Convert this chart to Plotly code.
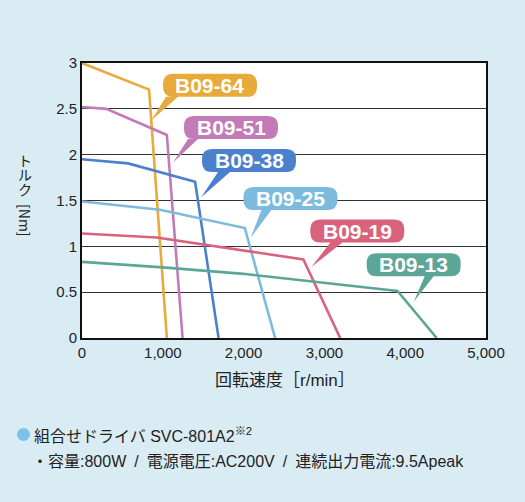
import plotly.graph_objects as go

# ---- data ----
models = ["B09-64", "B09-51", "B09-38", "B09-25", "B09-19", "B09-13"]
colors = ["#e9aa3c", "#c27bb7", "#4a80cc", "#7dbbde", "#d9637c", "#5ba697"]
speed_64 = [0, 830, 1050]
torque_64 = [3.0, 2.71, 0]
speed_51 = [0, 300, 1050, 1245]
torque_51 = [2.52, 2.50, 2.215, 0]
speed_38 = [0, 570, 1400, 1690]
torque_38 = [1.95, 1.905, 1.705, 0]
speed_25 = [0, 965, 2015, 2390]
torque_25 = [1.49, 1.40, 1.20, 0]
speed_19 = [0, 925, 2740, 3195]
torque_19 = [1.14, 1.097, 0.857, 0]
speed_13 = [0, 1000, 2000, 3905, 4390]
torque_13 = [0.83, 0.77, 0.70, 0.514, 0]
speeds = [speed_64, speed_51, speed_38, speed_25, speed_19, speed_13]
torques = [torque_64, torque_51, torque_38, torque_25, torque_19, torque_13]

x_ticks = [0, 1000, 2000, 3000, 4000, 5000]
x_tick_text = ["0", "1,000", "2,000", "3,000", "4,000", "5,000"]
y_ticks = [0, 0.5, 1, 1.5, 2, 2.5, 3]
y_tick_text = ["0", "0.5", "1", "1.5", "2", "2.5", "3"]

# label callout anchors (data units) and tail geometry (pixels rel. to box centre)
label_x = [1584, 1844, 2067, 2580, 3407, 4105]
label_y = [2.756, 2.297, 1.937, 1.521, 1.166, 0.80]
tail_tip = [(-59, -35.5), (-58, -35), (-48, -37), (-40, -39.5), (-46, -36), (0, -37)]
tail_base = [(-44, -32), (-43, -33), (-31, -19), (-29, -19), (-27, -15), (11, 20)]

LATIN = "Liberation Sans, Arial, sans-serif"
MIXED = "'Liberation Sans', 'Noto Sans CJK JP', sans-serif"
CJK = "Noto Sans CJK JP, sans-serif"

fig = go.Figure()
for m, c, sx, ty in zip(models, colors, speeds, torques):
    fig.add_trace(go.Scatter(x=sx, y=ty, mode="lines", name=m,
                             line=dict(color=c, width=2.6), hoverinfo="skip"))

W, H, R = 47, 11.5, 10
shapes = []
annotations = []
for m, c, lx, ly, tip, base in zip(models, colors, label_x, label_y, tail_tip, tail_base):
    b1, b2 = base
    tx, ty = tip
    path = (f"M {-W+R},{H} L {W-R},{H} Q {W},{H} {W},{H-R} L {W},{-H+R} "
            f"Q {W},{-H} {W-R},{-H} L {b2},{-H} L {tx},{ty} L {b1},{-H} "
            f"L {-W+R},{-H} Q {-W},{-H} {-W},{-H+R} L {-W},{H-R} Q {-W},{H} {-W+R},{H} Z")
    shapes.append(dict(type="path", xref="x", yref="y", xsizemode="pixel",
                       ysizemode="pixel", xanchor=lx, yanchor=ly, path=path,
                       fillcolor=c, line=dict(width=0), layer="above"))
    annotations.append(dict(x=lx, y=ly, xref="x", yref="y", text=f"<b>{m}</b>",
                            showarrow=False, font=dict(family=LATIN, size=21, color="white"),
                            xanchor="center", yanchor="middle"))

# plot area pixel geometry helpers for outside text
L, Rr, T, B = 82, 486, 63.3, 337.7
def px(x):
    return (x - L) / (Rr - L)
def py(y):
    return (B - y) / (B - T)

# footer bullet circle
shapes.append(dict(type="circle", xref="paper", yref="paper", xsizemode="pixel",
                   ysizemode="pixel", xanchor=px(23.5), yanchor=py(434),
                   x0=-6.5, x1=6.5, y0=-6.5, y1=6.5,
                   fillcolor="#7cc2ea", line=dict(width=0)))

# y-axis title (vertical Japanese)
for ch, yy in zip(["ト", "ル", "ク"], [160, 174.5, 189]):
    annotations.append(dict(x=px(25), y=py(yy), xref="paper", yref="paper", text=ch,
                            showarrow=False, font=dict(family=CJK, size=14, color="#222"),
                            xanchor="center", yanchor="middle"))
annotations.append(dict(x=px(25), y=py(220), xref="paper", yref="paper", text="[Nm]",
                        showarrow=False, textangle=90,
                        font=dict(family=CJK, size=14, color="#222"),
                        xanchor="center", yanchor="middle"))
# x-axis title
annotations.append(dict(x=px(285), y=py(380), xref="paper", yref="paper",
                        text="回転速度［r/min］", showarrow=False,
                        font=dict(family=MIXED, size=17, color="#222"),
                        xanchor="center", yanchor="middle"))
# footer
annotations.append(dict(x=px(32), y=py(434), xref="paper", yref="paper",
                        text="組合せドライバ SVC-801A2<sup>※2</sup>",
                        showarrow=False, font=dict(family=MIXED, size=16, color="#222"),
                        xanchor="left", yanchor="middle"))
annotations.append(dict(x=px(30), y=py(461), xref="paper", yref="paper",
                        text="・容量:800W\u2002/\u2002電源電圧:AC200V\u2002/\u2002連続出力電流:9.5Apeak",
                        showarrow=False, font=dict(family=MIXED, size=16, color="#222"),
                        xanchor="left", yanchor="middle"))

fig.update_layout(
    width=525, height=502,
    margin=dict(l=L, r=525 - Rr, t=T, b=502 - B),
    paper_bgcolor="#daecf3", plot_bgcolor="white",
    showlegend=False,
    shapes=shapes, annotations=annotations,
    font=dict(family=LATIN, color="#222"),
)
fig.update_xaxes(range=[0, 5000], tickvals=x_ticks, ticktext=x_tick_text,
                 showgrid=False, zeroline=False, showline=True, linecolor="#111",
                 linewidth=2, mirror=True, ticks="", tickfont=dict(size=15, family=LATIN))
fig.update_yaxes(range=[0, 3], tickvals=y_ticks, ticktext=y_tick_text,
                 showgrid=True, gridcolor="#333", gridwidth=1, zeroline=False,
                 showline=True, linecolor="#111", linewidth=2, mirror=True, ticks="",
                 tickfont=dict(size=15, family=LATIN))

fig.write_html(
    "out.html",
    config={"displayModeBar": False},
    post_script=("document.body.style.margin='0';"
                 "document.body.style.background='#daecf3';"
                 "document.body.style.overflow='hidden';"),
)
